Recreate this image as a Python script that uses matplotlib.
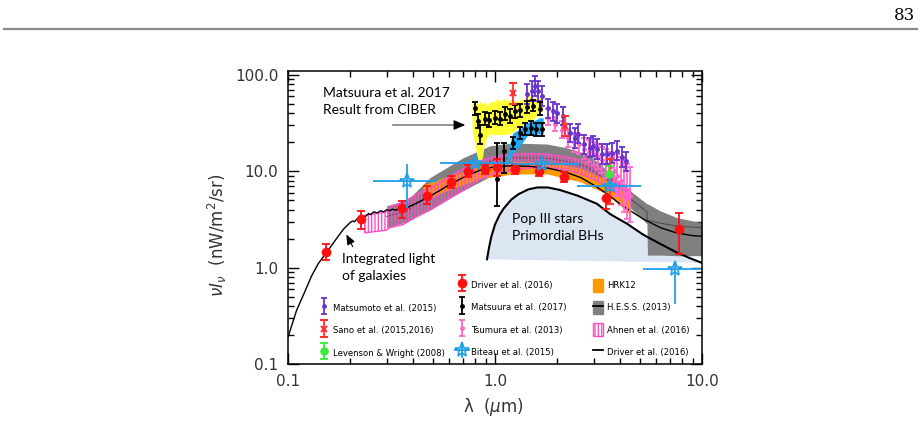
import matplotlib
matplotlib.use("Agg")
import matplotlib.pyplot as plt
import numpy as np
from matplotlib.patches import Patch
from matplotlib.lines import Line2D
from matplotlib.ticker import FixedLocator, FixedFormatter, LogLocator, NullFormatter
from matplotlib.legend_handler import HandlerErrorbar

# ---------------- data ----------------
# Driver et al. (2016) model line
drv_model_lam = [0.100, 0.110, 0.120, 0.130, 0.140, 0.153, 0.170, 0.185, 0.200, 0.205, 0.210, 0.215,
                 0.220, 0.230, 0.235, 0.245, 0.250, 0.260, 0.270, 0.280, 0.290, 0.300, 0.310, 0.320,
                 0.330, 0.345, 0.380, 0.420, 0.470, 0.540, 0.610, 0.730, 0.850, 1.00, 1.20, 1.45,
                 1.80, 2.20, 2.60, 3.00, 3.50, 4.00, 4.50, 5.20, 6.30, 7.50, 9.00, 10.0]
drv_model_val = [0.19, 0.36, 0.55, 0.82, 1.10, 1.42, 1.95, 2.50, 2.95, 3.05, 3.00, 3.20,
                 3.15, 3.45, 3.35, 3.65, 3.55, 3.80, 3.70, 3.90, 3.80, 4.00, 3.90, 4.05,
                 3.95, 4.10, 4.25, 4.70, 5.30, 6.30, 7.40, 9.00, 10.3, 11.2, 11.4, 11.3,
                 10.8, 9.8, 8.6, 7.2, 5.8, 4.6, 3.9, 3.2, 2.6, 2.3, 2.15, 2.12]

# Pop III stars / primordial BHs
pop_lam = [0.915, 0.935, 0.96, 1.0, 1.05, 1.1, 1.2, 1.3, 1.45, 1.6, 1.8, 2.06, 2.5, 3.11, 3.6,
           4.34, 5.2, 6.27, 7.5, 8.7, 10.0]
pop_val = [1.22, 1.6, 2.1, 2.8, 3.5, 4.1, 5.1, 5.8, 6.5, 6.8, 6.8, 6.4, 5.6, 4.6, 3.6,
           2.86, 2.2, 1.77, 1.45, 1.26, 1.12]
pop_floor_lam = [10.0, 0.915]
pop_floor_val = [1.12, 1.22]

# H.E.S.S. (2013)
hess_lam = [0.30, 0.376, 0.485, 0.70, 0.946, 1.22, 1.78, 2.23, 2.78, 3.21, 4.49, 5.42, 5.45, 6.27, 7.57, 10.0]
hess_hi = [4.4, 5.0, 8.6, 13.8, 18.4, 19.7, 19.2, 17.5, 15.2, 11.9, 6.3, 4.6, 4.6, 3.9, 3.3, 2.93]
hess_lo = [2.6, 3.0, 4.0, 6.3, 8.8, 9.8, 9.8, 9.2, 8.2, 6.8, 4.2, 2.86, 1.35, 1.35, 1.33, 1.33]
hess_mid = [3.4, 3.9, 5.9, 9.3, 12.7, 13.9, 13.7, 12.7, 11.2, 9.0, 5.2, 3.8, 3.1, 2.9, 2.7, 2.6]

# HRK12
hrk_lam = [0.449, 0.586, 0.847, 1.22, 1.78, 2.58, 3.47, 4.15, 4.49]
hrk_lo = [4.9, 6.3, 8.4, 9.4, 9.4, 7.8, 5.8, 4.2, 3.5]
hrk_hi = [7.2, 8.8, 11.4, 12.6, 12.6, 10.8, 8.2, 6.2, 5.2]

# Ahnen et al. (2016)
ahn_lam = [0.235, 0.30, 0.31, 0.36, 0.42, 0.49, 0.60, 0.70, 0.85, 1.00, 1.22, 1.50, 1.78, 2.20, 2.58, 3.10, 3.70, 4.50]
ahn_hi = [3.5, 3.8, 4.3, 4.8, 5.8, 6.8, 8.8, 10.6, 13.0, 14.2, 15.0, 15.3, 15.0, 14.2, 13.0, 10.9, 8.6, 6.3]
ahn_lo = [2.3, 2.45, 2.6, 2.8, 3.4, 4.0, 5.2, 6.3, 8.3, 9.5, 10.3, 10.9, 10.9, 10.4, 9.4, 8.0, 6.3, 4.9]

# CIBER band (Matsuura 2017)
cib_lam = [0.775, 0.79, 0.81, 0.83, 0.85, 0.87, 0.89, 0.92, 0.95, 0.98, 1.02, 1.06, 1.10, 1.15,
           1.20, 1.26, 1.32, 1.40, 1.48, 1.56, 1.64, 1.71]
cib_hi = [60, 52, 55, 49, 54, 50, 53, 48, 54, 52, 57, 53, 57, 54, 56, 53, 55, 58, 61, 57, 58, 56]
cib_lo = [27, 22, 16, 13, 12.4, 14, 20, 23, 24.5, 24, 24, 24, 24, 24.5, 25, 27, 29.6, 32, 34, 36, 40, 45]

# blue band
blu_lam = [1.117, 1.16, 1.18, 1.22, 1.32, 1.43, 1.53, 1.65, 1.71]
blu_hi = [11.4, 16, 19.7, 25, 27.6, 32, 33.4, 36, 36]
blu_lo = [11.4, 12.2, 13.5, 15.5, 18.4, 23.3, 24, 24.5, 24.5]

# Matsuura et al. (2017) points
mat_lam = [0.80, 0.83, 0.85, 0.89, 0.94, 1.00, 1.06, 1.12, 1.18, 1.25, 1.32, 1.43, 1.53, 1.65,
           1.02, 1.11, 1.22, 1.32, 1.40, 1.50, 1.58, 1.68]
mat_val = [45.5, 33, 24, 35, 34, 36, 35, 39.5, 37.6, 42, 43, 46.5, 48, 44.5,
           8.3, 16.3, 19.7, 25, 27.5, 28, 27.5, 27.5]
mat_lo = [38, 28, 19, 30, 29, 31, 30, 34, 32, 36, 37, 40, 42, 38,
          4.4, 9.6, 17, 21.5, 24, 24, 23.5, 23.5]
mat_hi = [53, 39, 30, 41, 40, 42, 41, 46, 44, 49, 50, 54, 55, 52,
          19.5, 19.7, 22.5, 29, 32, 33, 32, 32]

# Matsumoto et al. (2015)
mtm_lam = [1.43, 1.51, 1.56, 1.62, 1.69, 1.80, 1.90, 2.00, 2.12, 2.30, 2.43, 2.52, 2.70, 2.87,
           2.97, 3.11, 3.30, 3.49, 3.66, 3.87, 4.10, 4.30]
mtm_val = [63.6, 68, 77, 68, 60, 45.5, 42, 40, 37.6, 25, 22.2, 24.5, 19, 17.5,
           18.4, 17.1, 15, 15.2, 15.5, 16.3, 14.1, 12.8]
mtm_lo = [50, 54, 61, 54, 48, 36, 33, 32, 30, 20, 17.5, 19.5, 15, 14,
          14.5, 13.5, 12, 12, 12.3, 13, 11, 10]
mtm_hi = [80, 86, 97, 86, 76, 57, 53, 50, 47, 31, 28, 31, 24, 22,
          23, 21.5, 19, 19, 19.5, 20.5, 18, 16]

# Tsumura et al. (2013)
tsu_lam = [1.80, 1.95, 2.10, 2.25, 2.40, 2.55, 2.70, 2.85, 3.00, 3.15, 3.30, 3.45, 3.60, 3.75,
           3.90, 4.05, 4.20, 4.35, 4.50]
tsu_val = [36, 31, 27, 22, 20, 19, 17, 16, 15, 14, 13, 12, 11, 10, 9, 8, 7, 6, 5.5]
tsu_lo = [30, 26, 22, 18, 16, 15, 13.5, 12.5, 11.5, 10.5, 9.5, 8.5, 7.5, 6.5, 5.5, 4.5, 3.8, 3.2, 3.0]
tsu_hi = [44, 37, 33, 27, 25, 24, 22, 21, 20, 19, 18, 17, 16, 15.5, 15, 14, 13, 12, 11]

# Sano et al. (2015, 2016)
sano_lam = [1.22, 2.18, 3.60]
sano_val = [65, 29.6, 8.5]
sano_lo = [50, 23, 4.6]
sano_hi = [82, 37.6, 13.5]

# Levenson & Wright (2008)
lev_lam = [3.56]
lev_val = [9.4]
lev_lo = [7.4]
lev_hi = [11.4]

# Driver et al. (2016) points
drv_lam = [0.153, 0.225, 0.356, 0.469, 0.612, 0.741, 0.895, 1.02, 1.25, 1.63, 2.16, 3.45, 7.74]
drv_val = [1.45, 3.2, 4.2, 5.6, 7.8, 10.0, 10.6, 11.2, 10.6, 10.1, 8.8, 5.3, 2.5]
drv_lo = [1.21, 2.5, 3.3, 4.6, 6.7, 8.7, 9.3, 9.0, 9.4, 9.0, 7.8, 4.1, 1.4]
drv_hi = [1.77, 3.9, 4.9, 7.0, 9.0, 11.5, 12.0, 13.5, 12.0, 11.3, 9.9, 7.0, 3.7]

# Biteau et al. (2015)
bit_lam = [0.376, 0.80, 1.68, 3.60, 7.40]
bit_val = [7.95, 12.2, 11.8, 7.1, 0.97]
bit_xlo = [0.257, 0.54, 1.22, 2.50, 5.20]
bit_xhi = [0.525, 1.22, 2.55, 5.10, 12.0]
bit_lo = [4.2, 11.0, 10.8, 6.5, 0.42]
bit_hi = [11.9, 13.5, 12.9, 7.8, 1.12]

x_ticks = [0.1, 1.0, 10.0]
x_tick_labels = ["0.1", "1.0", "10.0"]
y_ticks = [0.1, 1.0, 10.0, 100.0]
y_tick_labels = ["0.1", "1.0", "10.0", "100.0"]

# ---------------- colours ----------------
C_RED = "#ff1010"
C_SANO = "#ff3030"
C_PURP = "#6633cc"
C_TSU = "#ff66cc"
C_GRN = "#33ee33"
C_BIT = "#1e9fe8"
C_GRAY = "#808080"
C_ORNG = "#ff9900"
C_AHN = "#ff4fc8"
C_YEL = "#ffff33"
C_BLU = "#1eaaf0"
C_POP = "#dce6f2"

W, H = 921, 422
fig = plt.figure(figsize=(W / 100, H / 100), dpi=100)
ax = fig.add_axes([288 / W, (H - 364) / H, 414 / W, 293 / H])
ax.set_xscale("log")
ax.set_yscale("log")
ax.set_xlim(0.1, 10)
ax.set_ylim(0.1, 110)

# page decoration
fig.add_artist(Line2D([4 / W, 917 / W], [1 - 29 / H, 1 - 29 / H], color="#8a8a8a", lw=1.6))
fig.text(915 / W, 1 - 15 / H, "83", ha="right", va="center", family="DejaVu Serif", fontsize=12)

# Pop III region
ax.fill(list(pop_lam) + pop_floor_lam, list(pop_val) + pop_floor_val, color=C_POP, lw=0, zorder=1)
ax.plot(pop_lam, pop_val, color="black", lw=1.5, zorder=6)

# bands
ax.fill_between(hess_lam, hess_lo, hess_hi, color=C_GRAY, lw=0, zorder=2)
ax.plot(hess_lam, hess_mid, color="#505050", lw=0.8, zorder=2.1)
ax.fill_between(hrk_lam, hrk_lo, hrk_hi, color=C_ORNG, lw=0, zorder=2.5)
plt.rcParams["hatch.linewidth"] = 1.0
ax.fill_between(ahn_lam, ahn_lo, ahn_hi, facecolor="none", edgecolor=C_AHN, hatch="|||||", lw=1.0, zorder=3)
ax.fill_between(cib_lam, cib_lo, cib_hi, color=C_YEL, lw=0, zorder=3.5)
ax.fill_between(blu_lam, blu_lo, blu_hi, color=C_BLU, lw=0, zorder=3.6)

# Driver model line
ax.plot(drv_model_lam, drv_model_val, color="black", lw=1.0, zorder=4)


def asym(v, lo, hi):
    v = np.asarray(v, float)
    return [v - np.asarray(lo, float), np.asarray(hi, float) - v]


eb_kw = dict(linestyle="none", elinewidth=1.3, capthick=1.3)
h_tsu = ax.errorbar(tsu_lam, tsu_val, yerr=asym(tsu_val, tsu_lo, tsu_hi), color=C_TSU, marker="o", ms=2.5,
                    capsize=2.5, zorder=7, **eb_kw)
h_mtm = ax.errorbar(mtm_lam, mtm_val, yerr=asym(mtm_val, mtm_lo, mtm_hi), color=C_PURP, marker="o", ms=2.5,
                    capsize=2.5, zorder=8, **eb_kw)
h_mat = ax.errorbar(mat_lam, mat_val, yerr=asym(mat_val, mat_lo, mat_hi), color="black", marker="o", ms=2.5,
                    capsize=2.5, zorder=8, **eb_kw)
h_sano = ax.errorbar(sano_lam, sano_val, yerr=asym(sano_val, sano_lo, sano_hi), color=C_SANO, marker="x", ms=5,
                     mew=1.5, capsize=3, zorder=9, **eb_kw)
h_lev = ax.errorbar(lev_lam, lev_val, yerr=asym(lev_val, lev_lo, lev_hi), color=C_GRN, marker="o", ms=5,
                    capsize=3, zorder=9, **eb_kw)
h_drv = ax.errorbar(drv_lam, drv_val, yerr=asym(drv_val, drv_lo, drv_hi), color=C_RED, marker="o", ms=6,
                    capsize=3, zorder=9, **eb_kw)
h_bit = ax.errorbar(bit_lam, bit_val, yerr=asym(bit_val, bit_lo, bit_hi), xerr=asym(bit_lam, bit_xlo, bit_xhi),
                    color=C_BIT, marker="*", ms=11, mfc="none", mec=C_BIT, mew=1.2, capsize=0, zorder=10,
                    linestyle="none", elinewidth=1.3)

# annotations
lato = "Lato"
ax.text((323 - 288) / 414, (364 - 101.5) / 293, "Matsuura et al. 2017\nResult from CIBER", transform=ax.transAxes,
        ha="left", va="center", fontsize=10, family=lato, linespacing=1.45, zorder=12)
ax.annotate("", xy=((460 - 288) / 414, (364 - 125) / 293), xytext=((390 - 288) / 414, (364 - 125) / 293),
            xycoords="axes fraction", arrowprops=dict(arrowstyle="-", color="#808080", lw=1.2), zorder=12)
ax.annotate("", xy=((468 - 288) / 414, (364 - 125) / 293), xytext=((458 - 288) / 414, (364 - 125) / 293),
            xycoords="axes fraction",
            arrowprops=dict(arrowstyle="-|>,head_length=0.7,head_width=0.3", color="black", lw=0.8), zorder=12)
ax.text((342 - 288) / 414, (364 - 267.5) / 293, "Integrated light\nof galaxies", transform=ax.transAxes,
        ha="left", va="center", fontsize=10, family=lato, linespacing=1.45, zorder=12)
ax.annotate("", xy=((345 - 288) / 414, (364 - 232) / 293), xytext=((354 - 288) / 414, (364 - 249) / 293),
            xycoords="axes fraction",
            arrowprops=dict(arrowstyle="-|>,head_length=0.6,head_width=0.25", color="black", lw=0.8), zorder=12)
ax.text((512 - 288) / 414, (364 - 227.5) / 293, "Pop III stars\nPrimordial BHs", transform=ax.transAxes,
        ha="left", va="center", fontsize=10, family=lato, linespacing=1.45, zorder=12)

# axes styling
ax.xaxis.set_major_locator(FixedLocator(x_ticks))
ax.xaxis.set_major_formatter(FixedFormatter(x_tick_labels))
ax.yaxis.set_major_locator(FixedLocator(y_ticks))
ax.yaxis.set_major_formatter(FixedFormatter(y_tick_labels))
ax.xaxis.set_minor_locator(LogLocator(base=10, subs=np.arange(2, 10)))
ax.yaxis.set_minor_locator(LogLocator(base=10, subs=np.arange(2, 10)))
ax.xaxis.set_minor_formatter(NullFormatter())
ax.yaxis.set_minor_formatter(NullFormatter())
ax.tick_params(which="both", direction="in", top=True, right=True, width=1.0, color="black")
ax.tick_params(which="major", length=8, labelsize=11, pad=7, labelcolor="#333333")
ax.tick_params(which="minor", length=4.5)
for s in ax.spines.values():
    s.set_linewidth(1.1)
    s.set_zorder(20)

ax.set_ylabel(r"$\nu I_\nu$  (nW/m$^2$/sr)", fontsize=12, color="#333333")
ax.yaxis.set_label_coords(-0.142, 0.44)
ax.set_xlabel(r"λ  ($\mu$m)", fontsize=12, color="#333333")
ax.xaxis.set_label_coords(0.495, -0.11)

# legends (three columns)
hmap = {type(h_drv): HandlerErrorbar(xerr_size=0.95, yerr_size=0.95)}
leg_kw = dict(frameon=False, fontsize=6.1, handlelength=1.2, handleheight=2.0, handletextpad=0.5,
              labelspacing=1.1, borderpad=0, borderaxespad=0, loc="upper left", handler_map=hmap)
leg1 = ax.legend([h_mtm, h_sano, h_lev], ["Matsumoto et al. (2015)", "Sano et al. (2015,2016)",
                                          "Levenson & Wright (2008)"],
                 bbox_to_anchor=((319 - 288) / 414, (364 - 301.5) / 293), **leg_kw)
ax.add_artist(leg1)
leg2 = ax.legend([h_drv, h_mat, h_tsu, h_bit], ["Driver et al. (2016)", "Matsuura et al. (2017)",
                                                 "Tsumura et al. (2013)", "Biteau et al. (2015)"],
                 bbox_to_anchor=((457 - 288) / 414, (364 - 278.5) / 293), **leg_kw)
ax.add_artist(leg2)
p_hrk = Patch(facecolor=C_ORNG, edgecolor=C_ORNG)
p_hess = (Patch(facecolor=C_GRAY, edgecolor=C_GRAY), Line2D([], [], color="black", lw=1.3))
p_ahn = Patch(facecolor="white", edgecolor=C_AHN, hatch="|||||")
l_drv = Line2D([], [], color="black", lw=1.3)
leg3 = ax.legend([p_hrk, p_hess, p_ahn, l_drv], ["HRK12", "H.E.S.S. (2013)", "Ahnen et al. (2016)",
                                                  "Driver et al. (2016)"],
                 bbox_to_anchor=((593 - 288) / 414, (364 - 278.5) / 293), **leg_kw)
for lg in (leg1, leg2, leg3):
    lg.set_zorder(15)

fig.savefig("out.png", dpi=100)
